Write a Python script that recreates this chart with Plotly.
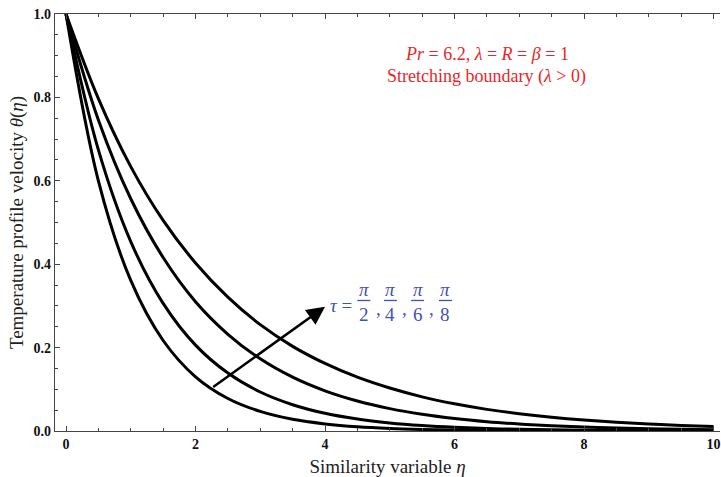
import plotly.graph_objects as go

# similarity variable grid
eta = [0, 0.5, 1, 1.5, 2, 2.5, 3, 3.5, 4, 4.5, 5, 5.5, 6, 6.5, 7, 7.5, 8, 8.5, 9, 9.5, 10]

# temperature profiles theta(eta) for tau = pi/2, pi/4, pi/6, pi/8
theta_pi2 = [1.0, 0.600, 0.361, 0.217, 0.130, 0.078, 0.047, 0.028, 0.017, 0.010, 0.006,
             0.0037, 0.0022, 0.0013, 0.0008, 0.0005, 0.0003, 0.0002, 0.0001, 0.0001, 0.0]
theta_pi4 = [1.0, 0.674, 0.454, 0.306, 0.206, 0.139, 0.0935, 0.063, 0.0424, 0.0286, 0.0193,
             0.013, 0.0087, 0.0059, 0.004, 0.0027, 0.0018, 0.0012, 0.0008, 0.0005, 0.0004]
theta_pi6 = [1.0, 0.746, 0.557, 0.416, 0.310, 0.232, 0.173, 0.129, 0.0963, 0.0719, 0.0537,
             0.0401, 0.0299, 0.0223, 0.0167, 0.0124, 0.0093, 0.0069, 0.0052, 0.0039, 0.0029]
theta_pi8 = [1.0, 0.797, 0.634, 0.505, 0.403, 0.321, 0.255, 0.203, 0.162, 0.129, 0.103,
             0.0819, 0.0652, 0.0519, 0.0414, 0.0329, 0.0262, 0.0209, 0.0167, 0.0133, 0.0106]

series = [theta_pi2, theta_pi4, theta_pi6, theta_pi8]
denominators = ["2", "4", "6", "8"]

x_ticks = [0, 2, 4, 6, 8, 10]
y_ticks = [0.0, 0.2, 0.4, 0.6, 0.8, 1.0]

SERIF = "Liberation Serif, Times New Roman, serif"
RED = "#e8262a"
BLUE = "#3f51b5"

fig = go.Figure()
for th in series:
    fig.add_trace(go.Scatter(x=eta, y=th, mode="lines",
                             line=dict(color="black", width=3, shape="spline", smoothing=1.0),
                             showlegend=False, hoverinfo="skip"))

# direction of increasing tau
fig.add_annotation(x=4.0, y=0.298, ax=2.25, ay=0.103, xref="x", yref="y",
                   axref="x", ayref="y", text="", showarrow=True,
                   arrowhead=2, arrowsize=1.4, arrowwidth=2.6, arrowcolor="black")

# parameter box (red)
fig.add_annotation(x=6.5, y=0.903, xref="x", yref="y", showarrow=False,
                   text="<i>Pr</i> = 6.2, <i>λ</i> = <i>R</i> = <i>β</i> = 1",
                   font=dict(family=SERIF, size=18, color=RED))
fig.add_annotation(x=6.5, y=0.850, xref="x", yref="y", showarrow=False,
                   text="Stretching boundary (<i>λ</i> &gt; 0)",
                   font=dict(family=SERIF, size=18, color=RED))

# tau label with stacked fractions (blue)
fig.add_annotation(x=4.25, y=0.300, xref="x", yref="y", showarrow=False,
                   text="<i>τ</i> =", xanchor="center",
                   font=dict(family=SERIF, size=19, color=BLUE))
frac_x = [4.6, 5.01, 5.43, 5.86]
for i, (fx, d) in enumerate(zip(frac_x, denominators)):
    fig.add_annotation(x=fx, y=0.340, xref="x", yref="y", showarrow=False,
                       text="<i>π</i>", font=dict(family=SERIF, size=19, color=BLUE))
    fig.add_annotation(x=fx, y=0.280, xref="x", yref="y", showarrow=False,
                       text=d, font=dict(family=SERIF, size=19, color=BLUE))
    fig.add_shape(type="line", x0=fx - 0.1, x1=fx + 0.1, y0=0.313, y1=0.313,
                  xref="x", yref="y", line=dict(color=BLUE, width=1.3))
    if i < len(frac_x) - 1:
        fig.add_annotation(x=fx + 0.22, y=0.293, xref="x", yref="y", showarrow=False,
                           text=",", font=dict(family=SERIF, size=19, color=BLUE))

axis_common = dict(showgrid=False, zeroline=False, showline=True, linecolor="#444",
                   linewidth=1.2, ticks="inside", tickcolor="#444", ticklen=5,
                   tickfont=dict(family=SERIF, size=14, color="#111", weight="bold"))

fig.update_xaxes(range=[-0.17, 10.1], tickvals=x_ticks, mirror="ticks",
                 minor=dict(ticks="inside", dtick=0.5, ticklen=3, tickcolor="#444"),
                 title=dict(text="Similarity variable <i>η</i>", standoff=8,
                            font=dict(family=SERIF, size=19, color="#222")),
                 **axis_common)
fig.update_yaxes(range=[0, 1.0], tickvals=y_ticks, tickformat=".1f",
                 minor=dict(ticks="inside", dtick=0.05, ticklen=3, tickcolor="#444"),
                 title=dict(text="Temperature profile velocity <i>θ</i>(<i>η</i>)", standoff=4,
                            font=dict(family=SERIF, size=19, color="#222")),
                 **axis_common)

fig.update_layout(width=721, height=477, margin=dict(l=55, r=1, t=14, b=46),
                  plot_bgcolor="white", paper_bgcolor="white")

fig.write_html("out.html")
